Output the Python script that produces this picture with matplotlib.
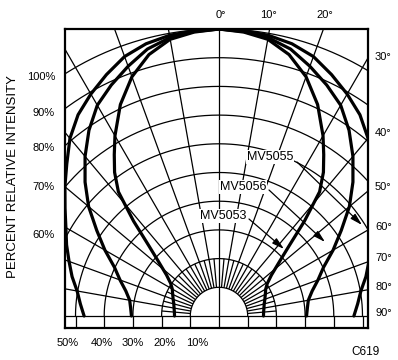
import numpy as np
import matplotlib.pyplot as plt

plt.rcParams['font.family'] = ['Liberation Sans', 'DejaVu Sans']

# -----------
# chart data: relative intensity (%) vs angle off axis (deg)
# -----------
ring_pcts = [10, 20, 30, 40, 50, 60, 70, 80, 90, 100]
left_pct_labels = ['100%', '90%', '80%', '70%', '60%']
bottom_pct_labels = ['50%', '40%', '30%', '20%', '10%']
top_deg_labels = ['0°', '10°', '20°']
right_deg_labels = ['30°', '40°', '50°', '60°', '70°', '80°', '90°']

mv5055_deg = [0, 5, 10, 15, 20, 25, 30, 35, 40, 45, 50, 55, 60, 65, 70, 75, 80, 85, 90]
mv5055_pct = [100, 99.8, 99.3, 98.2, 96.2, 92.8, 89.3, 85.6, 80.8, 75.0, 70.1,
              65.5, 61.6, 58.6, 55.6, 53.0, 50.2, 48.5, 47.0]

mv5056_deg = [0, 5, 10, 15, 20, 25, 30, 35, 40, 45, 50, 55, 60, 65, 70, 75, 80, 85, 90]
mv5056_pct = [100, 99.5, 98.5, 96.3, 92.6, 88.8, 84.8, 79.0, 72.6, 66.0, 59.3,
              52.0, 45.9, 40.2, 36.7, 33.6, 31.6, 30.9, 30.5]

mv5053_deg = [0, 5, 10, 15, 20, 25, 30, 33, 36, 39, 42, 45, 48, 52, 56, 60, 65,
              70, 75, 80, 85, 90]
mv5053_pct = [100, 99.3, 97.9, 94.3, 88.7, 81.3, 72.5, 67.0, 61.9, 55.7, 44.5,
              34.5, 28.4, 23.2, 20.3, 18.8, 17.8, 17.0, 16.3, 15.9, 15.6, 15.5]

# pixel scale of the original drawing (px per percent) and polar centre
S = 2.87
CX, CY = 219, 316


def px(x, y):
    # convert a picture position to data units
    return (x - CX) / S, (CY - y) / S


def to_xy(deg, pct):
    # mirror the pattern about 0 deg and convert to cartesian
    deg = np.asarray(deg, float)
    pct = np.asarray(pct, float)
    d = np.concatenate([-deg[::-1], deg[1:]])
    p = np.concatenate([pct[::-1], pct[1:]])
    t = np.radians(d)
    return p * np.sin(t), p * np.cos(t)


fig = plt.figure(figsize=(3.98, 3.6), dpi=100)
ax = fig.add_axes([65 / 398, 32 / 360, 303 / 398, 299 / 360])
ax.set_xlim(px(65, 0)[0], px(368, 0)[0])
ax.set_ylim(px(0, 328)[1], 100)
ax.set_xticks([])
ax.set_yticks([])
for sp in ax.spines.values():
    sp.set_linewidth(1.6)

grid_kw = dict(color='black', lw=0.9, solid_capstyle='butt')

# intensity rings
t = np.radians(np.linspace(-90, 90, 721))
for p in ring_pcts:
    ax.plot(p * np.sin(t), p * np.cos(t), **grid_kw)
    ax.plot([-p, -p], [0, -10], **grid_kw)
    ax.plot([p, p], [0, -10], **grid_kw)

# radial angle lines
for a in range(-80, 81, 10):
    if a == 0:
        continue
    ta = np.radians(a)
    ax.plot([10 * np.sin(ta), 200 * np.sin(ta)],
            [10 * np.cos(ta), 200 * np.cos(ta)], **grid_kw)
for a in range(-85, 86, 10):
    ta = np.radians(a)
    ax.plot([10 * np.sin(ta), 20 * np.sin(ta)],
            [10 * np.cos(ta), 20 * np.cos(ta)], **grid_kw)
ax.plot([0, 0], [-10, 100], **grid_kw)
ax.plot([-100, 100], [0, 0], **grid_kw)

# radiation patterns
for deg, pct in [(mv5055_deg, mv5055_pct), (mv5056_deg, mv5056_pct),
                 (mv5053_deg, mv5053_pct)]:
    x, y = to_xy(deg, pct)
    ax.plot(x, y, color='black', lw=2.3, solid_capstyle='round', zorder=3)

# part labels with leader arrows
lab_kw = dict(fontsize=9, ha='center', va='center', zorder=5,
              bbox=dict(facecolor='white', edgecolor='none', pad=0.6))
arr_kw = dict(arrowstyle='-|>,head_length=0.9,head_width=0.25', color='black',
              lw=0.9, shrinkA=0, shrinkB=0, mutation_scale=8)
ax.text(*px(270, 157), 'MV5055', **lab_kw)
ax.text(*px(243, 187), 'MV5056', **lab_kw)
ax.text(*px(223, 216), 'MV5053', **lab_kw)
ax.annotate('', xy=px(362, 225), xytext=px(297, 162), arrowprops=arr_kw, zorder=4)
ax.annotate('', xy=px(325, 242), xytext=px(269, 190), arrowprops=arr_kw, zorder=4)
ax.annotate('', xy=px(284, 249), xytext=px(249, 219), arrowprops=arr_kw, zorder=4)

# scale labels
fs = 8
for lab, x in zip(top_deg_labels, [221, 268, 325]):
    ax.text(*px(x, 15), lab, fontsize=fs, ha='center', va='center')
for lab, y in zip(right_deg_labels, [57, 133, 187, 227, 258, 287, 313]):
    ax.text(*px(375, y), lab, fontsize=fs, ha='left', va='center')
for lab, y in zip(left_pct_labels, [77, 113, 148, 187, 235]):
    ax.text(*px(55, y), lab, fontsize=fs, ha='right', va='center')
for lab, x in zip(bottom_pct_labels, [68, 102, 133, 165, 197]):
    ax.text(*px(x, 343), lab, fontsize=fs, ha='center', va='center')

ax.text(*px(13, 177), 'PERCENT RELATIVE INTENSITY', fontsize=9.5,
        rotation=90, ha='center', va='center')
ax.text(*px(365, 352), 'C619', fontsize=8.5, ha='center', va='center')

fig.savefig('out.png', dpi=100)
